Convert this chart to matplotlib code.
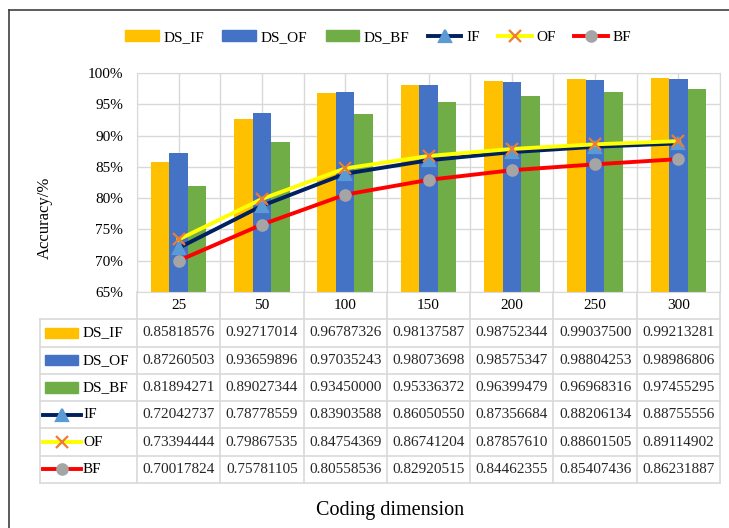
import numpy as np
import matplotlib as mpl
mpl.use("Agg")
import matplotlib.pyplot as plt
from matplotlib.patches import Patch, Rectangle
from matplotlib.lines import Line2D
from matplotlib.ticker import PercentFormatter

mpl.rcParams.update({"font.family": ["Liberation Serif", "DejaVu Serif"], "font.size": 11})

dims = ["25", "50", "100", "150", "200", "250", "300"]
ds_if = [0.85818576, 0.92717014, 0.96787326, 0.98137587, 0.98752344, 0.99037500, 0.99213281]
ds_of = [0.87260503, 0.93659896, 0.97035243, 0.98073698, 0.98575347, 0.98804253, 0.98986806]
ds_bf = [0.81894271, 0.89027344, 0.93450000, 0.95336372, 0.96399479, 0.96968316, 0.97455295]
if_ = [0.72042737, 0.78778559, 0.83903588, 0.86050550, 0.87356684, 0.88206134, 0.88755556]
of_ = [0.73394444, 0.79867535, 0.84754369, 0.86741204, 0.87857610, 0.88601505, 0.89114902]
bf_ = [0.70017824, 0.75781105, 0.80558536, 0.82920515, 0.84462355, 0.85407436, 0.86231887]

YEL, BLU, GRN = "#FFC000", "#4472C4", "#70AD47"
NAVY, YLINE, RED = "#002060", "#FFFF00", "#FF0000"
GRID = "#D9D9D9"

W, H = 729, 528
fig = plt.figure(figsize=(W / 100, H / 100), dpi=100)

def box(l, r, t, b):
    return [l / W, 1 - b / H, (r - l) / W, (b - t) / H]

# outer frame (only top and left edges visible)
fig.add_artist(Line2D([9 / W, 1], [1 - 10 / H] * 2, color="#404040", lw=1.2))
fig.add_artist(Line2D([9 / W] * 2, [0, 1 - 10 / H], color="#404040", lw=1.2))

# === main plot ===
ax = fig.add_axes(box(137, 720, 73, 292))
x = np.arange(len(dims))
w = 0.222
for i, (vals, col) in enumerate([(ds_if, YEL), (ds_of, BLU), (ds_bf, GRN)]):
    ax.bar(x + (i - 1) * w, vals, w, color=col, zorder=2)

line_specs = [
    (if_, NAVY, "^", "#5B9BD5", 8, "IF"),
    (of_, YLINE, "x", "#ED7D31", 8.5, "OF"),
    (bf_, RED, "o", "#A5A5A5", 7.5, "BF"),
]
for vals, col, mk, mcol, ms, lab in line_specs:
    ax.plot(x, vals, color=col, lw=2.8, marker=mk, ms=ms, mfc=mcol, mec=mcol,
            mew=1.6, zorder=3)

ax.set_xlim(-0.5, 6.5)
ax.set_ylim(0.65, 1.0)
ax.set_yticks(np.arange(0.65, 1.001, 0.05))
ax.yaxis.set_major_formatter(PercentFormatter(1.0, decimals=0))
ax.tick_params(axis="y", length=0, pad=10)
ax.set_xticks([])
ax.grid(axis="y", color=GRID, lw=1, zorder=0)
for xv in np.arange(-0.5, 6.6, 0.5):
    ax.axvline(xv, color=GRID, lw=1, zorder=0)
for s in ax.spines.values():
    s.set_color(GRID)
ax.set_ylabel("Accuracy/%", fontsize=12)
ax.yaxis.set_label_coords(-0.145, 0.34)

# === data table ===
lab_w = 97 / 83.3
tb = fig.add_axes(box(40, 720, 292, 483))
tb.set_xlim(-0.5 - lab_w, 6.5)
tb.set_ylim(7, 0)
tb.axis("off")
x0 = -0.5 - lab_w
for r in range(1, 8):
    tb.plot([x0, 6.5], [r, r], color=GRID, lw=1.2, clip_on=False)
tb.plot([x0, x0], [1, 7], color=GRID, lw=1.2, clip_on=False)
for xv in np.arange(-0.5, 6.6, 1.0):
    tb.plot([xv, xv], [0, 7], color=GRID, lw=1.2, clip_on=False)
for j, d in enumerate(dims):
    tb.text(j, 0.5, d, ha="center", va="center")

rows = [("DS_IF", ds_if), ("DS_OF", ds_of), ("DS_BF", ds_bf),
        ("IF", if_), ("OF", of_), ("BF", bf_)]
bar_cols = [YEL, BLU, GRN]
for r, (name, vals) in enumerate(rows):
    yc = r + 1.5
    kx = x0 + 5 / 83.3
    if r < 3:
        tb.add_patch(Rectangle((kx, yc - 0.19), 33 / 83.3, 0.38, color=bar_cols[r], clip_on=False))
    else:
        vals_l, col, mk, mcol, ms, _ = line_specs[r - 3]
        tb.plot([kx - 2 / 83.3, kx + 36 / 83.3], [yc, yc], color=col, lw=2.8, clip_on=False)
        tb.plot([kx + 17 / 83.3], [yc], marker=mk, ms=ms, mfc=mcol, mec=mcol, mew=1.6,
                clip_on=False)
    tb.text(kx + 38 / 83.3, yc, name, ha="left", va="center")
    for j, v in enumerate(vals):
        tb.text(j, yc, f"{v:.8f}", ha="center", va="center", color="#262626")

fig.text(390 / W, 1 - 510 / H, "Coding dimension", ha="center", va="center", fontsize=14.5)

# === legend ===
handles = [Patch(color=YEL), Patch(color=BLU), Patch(color=GRN)]
for vals, col, mk, mcol, ms, lab in line_specs:
    handles.append(Line2D([], [], color=col, lw=2.8, marker=mk, ms=ms, mfc=mcol, mec=mcol, mew=1.6))
fig.legend(handles, ["DS_IF", "DS_OF", "DS_BF", "IF", "OF", "BF"], loc="center",
           bbox_to_anchor=(378 / W, 1 - 37 / H), ncol=6, frameon=False,
           handlelength=2.2, handleheight=0.7, handletextpad=0.3, columnspacing=1.2)

fig.savefig("out.png", dpi=100)
